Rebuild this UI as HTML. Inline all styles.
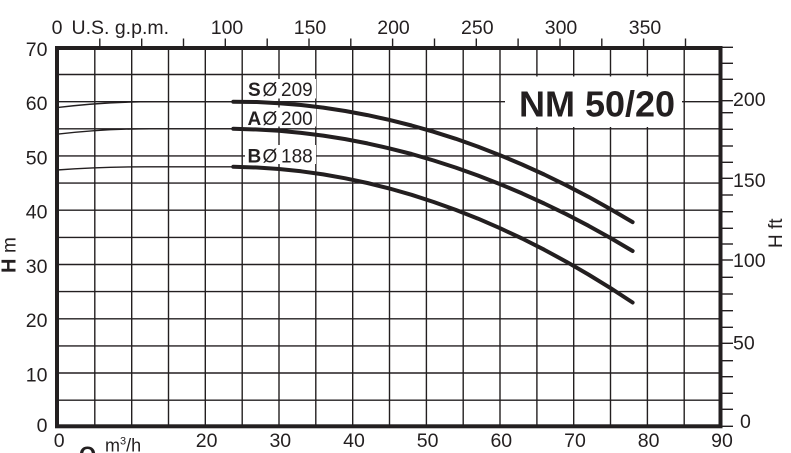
<!DOCTYPE html>
<html>
<head>
<meta charset="utf-8">
<style>
  html, body { margin:0; padding:0; background:#ffffff; }
  body { width:791px; height:453px; overflow:hidden; }
  svg { display:block; }
  text { font-family:"Liberation Sans", Arial, sans-serif; fill:#231f20; }
</style>
</head>
<body>
<svg width="791" height="453" viewBox="0 0 791 453" xmlns="http://www.w3.org/2000/svg">
  <rect x="0" y="0" width="791" height="453" fill="#ffffff"/>

  <!-- vertical gridlines -->
  <g stroke="#231f20" stroke-width="1.4" fill="none">
    <line x1="94.8" y1="48" x2="94.8" y2="426"/>
    <line x1="131.7" y1="48" x2="131.7" y2="426"/>
    <line x1="168.5" y1="48" x2="168.5" y2="426"/>
    <line x1="205.3" y1="48" x2="205.3" y2="426"/>
    <line x1="242.2" y1="48" x2="242.2" y2="426"/>
    <line x1="279.0" y1="48" x2="279.0" y2="426"/>
    <line x1="315.8" y1="48" x2="315.8" y2="426"/>
    <line x1="352.7" y1="48" x2="352.7" y2="426"/>
    <line x1="389.5" y1="48" x2="389.5" y2="426"/>
    <line x1="426.4" y1="48" x2="426.4" y2="426"/>
    <line x1="463.2" y1="48" x2="463.2" y2="426"/>
    <line x1="500.0" y1="48" x2="500.0" y2="426"/>
    <line x1="536.9" y1="48" x2="536.9" y2="426"/>
    <line x1="573.7" y1="48" x2="573.7" y2="426"/>
    <line x1="610.5" y1="48" x2="610.5" y2="426"/>
    <line x1="647.4" y1="48" x2="647.4" y2="426"/>
    <line x1="684.2" y1="48" x2="684.2" y2="426"/>
  </g>
  <!-- horizontal gridlines -->
  <g stroke="#231f20" stroke-width="1.4" fill="none">
    <line x1="57" y1="400.2" x2="720" y2="400.2"/>
    <line x1="57" y1="373.0" x2="720" y2="373.0"/>
    <line x1="57" y1="345.9" x2="720" y2="345.9"/>
    <line x1="57" y1="318.8" x2="720" y2="318.8"/>
    <line x1="57" y1="291.6" x2="720" y2="291.6"/>
    <line x1="57" y1="264.5" x2="720" y2="264.5"/>
    <line x1="57" y1="237.4" x2="720" y2="237.4"/>
    <line x1="57" y1="210.2" x2="720" y2="210.2"/>
    <line x1="57" y1="183.1" x2="720" y2="183.1"/>
    <line x1="57" y1="155.9" x2="720" y2="155.9"/>
    <line x1="57" y1="128.8" x2="720" y2="128.8"/>
    <line x1="57" y1="101.7" x2="720" y2="101.7"/>
    <line x1="57" y1="74.5" x2="720" y2="74.5"/>
  </g>

  <!-- top gpm ticks -->
  <g stroke="#231f20" stroke-width="1.4">
    <line x1="99.8" y1="38.5" x2="99.8" y2="48"/>
    <line x1="141.7" y1="38.5" x2="141.7" y2="48"/>
    <line x1="183.5" y1="38.5" x2="183.5" y2="48"/>
    <line x1="225.3" y1="38.5" x2="225.3" y2="48"/>
    <line x1="267.2" y1="38.5" x2="267.2" y2="48"/>
    <line x1="309.0" y1="38.5" x2="309.0" y2="48"/>
    <line x1="350.8" y1="38.5" x2="350.8" y2="48"/>
    <line x1="392.6" y1="38.5" x2="392.6" y2="48"/>
    <line x1="434.5" y1="38.5" x2="434.5" y2="48"/>
    <line x1="476.3" y1="38.5" x2="476.3" y2="48"/>
    <line x1="518.1" y1="38.5" x2="518.1" y2="48"/>
    <line x1="560.0" y1="38.5" x2="560.0" y2="48"/>
    <line x1="601.8" y1="38.5" x2="601.8" y2="48"/>
    <line x1="643.6" y1="38.5" x2="643.6" y2="48"/>
    <line x1="685.5" y1="38.5" x2="685.5" y2="48"/>
  </g>

  <!-- right ft ticks -->
  <g stroke="#231f20" stroke-width="1.4">
    <line x1="720" y1="47.3" x2="733" y2="47.3"/>
    <line x1="720" y1="63.3" x2="733" y2="63.3"/>
    <line x1="720" y1="79.3" x2="733" y2="79.3"/>
    <line x1="720" y1="100.7" x2="733" y2="100.7"/>
    <line x1="720" y1="112.7" x2="733" y2="112.7"/>
    <line x1="720" y1="129.3" x2="733" y2="129.3"/>
    <line x1="720" y1="146.0" x2="733" y2="146.0"/>
    <line x1="720" y1="162.3" x2="733" y2="162.3"/>
    <line x1="720" y1="178.3" x2="733" y2="178.3"/>
    <line x1="720" y1="195.0" x2="733" y2="195.0"/>
    <line x1="720" y1="211.7" x2="733" y2="211.7"/>
    <line x1="720" y1="228.3" x2="733" y2="228.3"/>
    <line x1="720" y1="244.0" x2="733" y2="244.0"/>
    <line x1="720" y1="260.0" x2="733" y2="260.0"/>
    <line x1="720" y1="277.3" x2="733" y2="277.3"/>
    <line x1="720" y1="294.0" x2="733" y2="294.0"/>
    <line x1="720" y1="310.7" x2="733" y2="310.7"/>
    <line x1="720" y1="327.3" x2="733" y2="327.3"/>
    <line x1="720" y1="343.3" x2="733" y2="343.3"/>
    <line x1="720" y1="360.7" x2="733" y2="360.7"/>
    <line x1="720" y1="376.7" x2="733" y2="376.7"/>
    <line x1="720" y1="393.3" x2="733" y2="393.3"/>
    <line x1="720" y1="409.3" x2="733" y2="409.3"/>
    <line x1="720" y1="426.3" x2="733" y2="426.3"/>
  </g>

  <!-- white boxes behind labels -->
  <rect x="505" y="76.5" width="177" height="50.5" fill="#ffffff"/>
  <rect x="245" y="79" width="71" height="19.5" fill="#ffffff"/>
  <rect x="245" y="107.5" width="71" height="19" fill="#ffffff"/>
  <rect x="245" y="145" width="71" height="19" fill="#ffffff"/>

  <!-- thin curve parts -->
  <g stroke="#231f20" stroke-width="1.4" fill="none">
    <path d="M57,107.6 Q105.4,101.7 153.8,101.7 L234,101.7"/>
    <path d="M57,134.2 Q103.5,128.8 150,128.8 L234,128.8"/>
    <path d="M57,170.0 Q101.5,166.8 146,166.8 L234,166.8"/>
  </g>

  <!-- thick curve parts -->
  <g stroke="#231f20" stroke-width="4" fill="none" stroke-linecap="round" stroke-linejoin="round">
    <polyline points="233.3,101.7 256.9,102.05 279.0,103.2 301.1,105.0 323.2,107.6 345.3,111.0 367.4,115.1 389.5,119.9 411.6,125.5 433.7,131.8 455.8,138.8 477.9,146.6 500.0,155.2 522.1,164.5 544.2,174.5 566.3,185.3 588.4,196.8 610.5,209.1 632.6,222.1"/>
    <polyline points="233.3,128.8 256.9,129.5 279.0,130.8 301.1,132.9 323.2,135.6 345.3,139.1 367.4,143.4 389.5,148.4 411.6,154.0 433.7,160.5 455.8,167.6 477.9,175.5 500.0,184.1 522.1,193.4 544.2,203.5 566.3,214.2 588.4,225.7 610.5,238.0 632.6,251.0"/>
    <polyline points="233.3,166.8 256.9,167.5 279.0,169.0 301.1,171.3 323.2,174.4 345.3,178.3 367.4,183.0 389.5,188.5 411.6,194.8 433.7,202.0 455.8,209.9 477.9,218.6 500.0,228.2 522.1,238.5 544.2,249.7 566.3,261.7 588.4,274.5 610.5,288.1 632.6,302.5"/>
  </g>

  <!-- plot border -->
  <rect x="57" y="48" width="663.5" height="378.3" fill="none" stroke="#231f20" stroke-width="4"/>

  <!-- curve labels -->
  <text y="96" font-size="19"><tspan x="248" font-weight="bold">S</tspan><tspan x="262.5">Ø</tspan><tspan x="281">209</tspan></text>
  <text y="125" font-size="19"><tspan x="247.5" font-weight="bold">A</tspan><tspan x="262.5">Ø</tspan><tspan x="281">200</tspan></text>
  <text y="162.5" font-size="19"><tspan x="247.5" font-weight="bold">B</tspan><tspan x="262.5">Ø</tspan><tspan x="281">188</tspan></text>

  <!-- title -->
  <text x="519" y="116.5" font-size="36" font-weight="bold">NM 50/20</text>

  <!-- left axis labels -->
  <g font-size="19.5" text-anchor="end">
    <text x="47.5" y="55.8">70</text>
    <text x="47.5" y="110.1">60</text>
    <text x="47.5" y="164.3">50</text>
    <text x="47.5" y="218.6">40</text>
    <text x="47.5" y="272.9">30</text>
    <text x="47.5" y="327.2">20</text>
    <text x="47.5" y="381.4">10</text>
    <text x="47.5" y="432">0</text>
  </g>

  <!-- bottom axis labels -->
  <g font-size="19.5" text-anchor="middle">
    <text x="59.2" y="447">0</text>
    <text x="206.6" y="447">20</text>
    <text x="280.3" y="447">30</text>
    <text x="354" y="447">40</text>
    <text x="427.6" y="447">50</text>
    <text x="501.3" y="447">60</text>
    <text x="575" y="447">70</text>
    <text x="648.6" y="447">80</text>
    <text x="722" y="447">90</text>
  </g>

  <!-- top axis labels -->
  <g font-size="19.5">
    <text x="57" y="34" text-anchor="middle">0</text>
    <text x="71.5" y="34">U.S. g.p.m.</text>
    <text x="227" y="34" text-anchor="middle">100</text>
    <text x="310" y="34" text-anchor="middle">150</text>
    <text x="393.5" y="34" text-anchor="middle">200</text>
    <text x="477.3" y="34" text-anchor="middle">250</text>
    <text x="561" y="34" text-anchor="middle">300</text>
    <text x="645" y="34" text-anchor="middle">350</text>
  </g>

  <!-- right axis labels -->
  <g font-size="19.5">
    <text x="733" y="106">200</text>
    <text x="733" y="187">150</text>
    <text x="733" y="267">100</text>
    <text x="733" y="349.7">50</text>
    <text x="740" y="428">0</text>
  </g>

  <!-- axis titles -->
  <text transform="translate(15.5,273) rotate(-90)" font-size="20"><tspan font-weight="bold">H</tspan> <tspan font-size="19">m</tspan></text>
  <text transform="translate(782,248) rotate(-90)" font-size="19">H ft</text>
  <text x="79" y="462" font-size="22" font-weight="bold">Q</text>
  <text x="105" y="451.5" font-size="18">m<tspan font-size="11" dy="-7">3</tspan><tspan dy="7">/h</tspan></text>
</svg>
</body>
</html>
